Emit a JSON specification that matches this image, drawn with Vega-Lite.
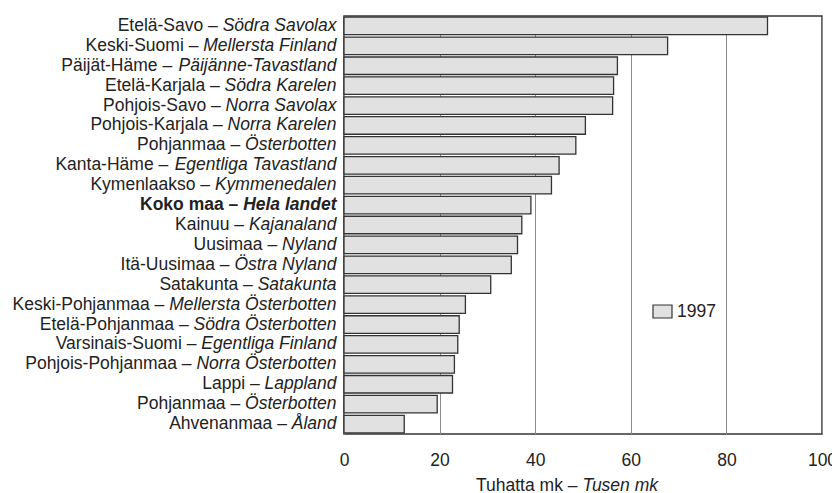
{
  "$schema": "https://vega.github.io/schema/vega-lite/v6.json",
  "width": 478,
  "height": 418,
  "autosize": {"type": "none"},
  "padding": {"left": 344, "top": 16, "right": 10, "bottom": 59},
  "background": "white",
  "config": {
    "font": "Liberation Sans",
    "view": {"stroke": "#333333", "strokeWidth": 1.5},
    "axis": {"labelColor": "#222222", "titleColor": "#222222", "labelFont": "Liberation Sans", "titleFont": "Liberation Sans"}
  },
  "data": {
    "values": [
      {"key": "01|Etelä-Savo|Södra Savolax", "value": 88.6, "year": "1997"},
      {"key": "02|Keski-Suomi|Mellersta Finland", "value": 67.7, "year": "1997"},
      {"key": "03|Päijät-Häme|Päijänne-Tavastland", "value": 57.2, "year": "1997"},
      {"key": "04|Etelä-Karjala|Södra Karelen", "value": 56.4, "year": "1997"},
      {"key": "05|Pohjois-Savo|Norra Savolax", "value": 56.2, "year": "1997"},
      {"key": "06|Pohjois-Karjala|Norra Karelen", "value": 50.5, "year": "1997"},
      {"key": "07|Pohjanmaa|Österbotten", "value": 48.5, "year": "1997"},
      {"key": "08|Kanta-Häme|Egentliga Tavastland", "value": 45.0, "year": "1997"},
      {"key": "09|Kymenlaakso|Kymmenedalen", "value": 43.4, "year": "1997"},
      {"key": "10|Koko maa|Hela landet", "value": 39.1, "year": "1997"},
      {"key": "11|Kainuu|Kajanaland", "value": 37.2, "year": "1997"},
      {"key": "12|Uusimaa|Nyland", "value": 36.3, "year": "1997"},
      {"key": "13|Itä-Uusimaa|Östra Nyland", "value": 35.0, "year": "1997"},
      {"key": "14|Satakunta|Satakunta", "value": 30.7, "year": "1997"},
      {"key": "15|Keski-Pohjanmaa|Mellersta Österbotten", "value": 25.4, "year": "1997"},
      {"key": "16|Etelä-Pohjanmaa|Södra Österbotten", "value": 24.1, "year": "1997"},
      {"key": "17|Varsinais-Suomi|Egentliga Finland", "value": 23.8, "year": "1997"},
      {"key": "18|Pohjois-Pohjanmaa|Norra Österbotten", "value": 23.1, "year": "1997"},
      {"key": "19|Lappi|Lappland", "value": 22.7, "year": "1997"},
      {"key": "20|Pohjanmaa|Österbotten", "value": 19.5, "year": "1997"},
      {"key": "21|Ahvenanmaa|Åland", "value": 12.6, "year": "1997"}
    ]
  },
  "layer": [
    {
      "mark": {"type": "bar", "stroke": "#333333", "strokeWidth": 1.3},
      "encoding": {
        "y": {
          "field": "key", "type": "nominal", "sort": null,
          "scale": {"paddingInner": 0.12, "paddingOuter": 0.06},
          "axis": {
            "orient": "left", "title": null, "ticks": false, "tickSize": 0, "domain": false, "grid": false,
            "labelPadding": 8, "labelFontSize": 17.5, "labelLimit": 1000, "labelOverlap": false,
            "labelFontStyle": "italic",
            "labelFontWeight": {"condition": {"test": "indexof(datum.value,'Koko')>=0", "value": "bold"}, "value": "normal"},
            "labelExpr": "split(datum.value,'|')[2]"
          }
        },
        "x": {
          "field": "value", "type": "quantitative",
          "scale": {"domain": [0, 100], "nice": false},
          "axis": {
            "orient": "bottom", "values": [0, 20, 40, 60, 80, 100], "ticks": false, "tickSize": 0, "domain": false,
            "grid": true, "gridColor": "#8a8a8a", "gridWidth": 1,
            "labelFontSize": 17.5, "labelPadding": 17, "labelFlush": false,
            "title": "Tuhatta mk –", "titleFontSize": 17.5, "titleFontWeight": "normal",
            "titleAlign": "right", "titleBaseline": "alphabetic", "titleX": 233, "titleY": 56
          }
        },
        "color": {
          "field": "year", "type": "nominal",
          "scale": {"range": ["#e1e1e1"]},
          "legend": {
            "orient": "none", "legendX": 308, "legendY": 285, "title": null, "padding": 0,
            "symbolType": "M-1,-0.684H1V0.684H-1Z", "symbolSize": 361,
            "symbolStrokeColor": "#333333", "symbolStrokeWidth": 1.2,
            "labelFont": "Liberation Sans", "labelFontSize": 17.5, "labelColor": "#222222", "labelOffset": 4
          }
        }
      }
    },
    {
      "mark": {"type": "bar", "opacity": 0},
      "encoding": {
        "y": {
          "field": "key", "type": "nominal", "sort": null,
          "axis": {
            "orient": "left", "title": null, "ticks": false, "tickSize": 0, "domain": false, "grid": false,
            "labelFontSize": 17.5, "labelLimit": 1000, "labelOverlap": false,
            "labelFontWeight": {"condition": {"test": "indexof(datum.value,'Koko')>=0", "value": "bold"}, "value": "normal"},
            "labelExpr": "split(datum.value,'|')[1] + ' –'",
            "labelPadding": {"expr": "8 + 0.0175*((556*length(split(datum.value,'|')[2]) - 334*length(replace(split(datum.value,'|')[2],regexp('[^ijl]','g'),'')) - 278*length(replace(split(datum.value,'|')[2],regexp('[^ftI ]','g'),'')) - 223*length(replace(split(datum.value,'|')[2],regexp('[^r-]','g'),'')) - 56*length(replace(split(datum.value,'|')[2],regexp('[^cksvxyzJ]','g'),'')) + 55*length(replace(split(datum.value,'|')[2],regexp('[^FTZ]','g'),'')) + 111*length(replace(split(datum.value,'|')[2],regexp('[^ABEKPSVXYÄÅ]','g'),'')) + 166*length(replace(split(datum.value,'|')[2],regexp('[^CDHNRUw]','g'),'')) + 222*length(replace(split(datum.value,'|')[2],regexp('[^GOQÖ]','g'),'')) + 277*length(replace(split(datum.value,'|')[2],regexp('[^mM]','g'),'')))*(indexof(datum.value,'Koko')>=0 ? 1.055 : 1) + 278)"}
          }
        },
        "x": {
          "field": "value", "type": "quantitative",
          "axis": {
            "orient": "bottom", "labels": false, "ticks": false, "domain": false, "grid": false,
            "title": "Tusen mk", "titleFontSize": 17.5, "titleFontWeight": "normal", "titleFontStyle": "italic",
            "titleAlign": "left", "titleBaseline": "alphabetic", "titleX": 238, "titleY": 56
          }
        }
      }
    }
  ],
  "resolve": {"axis": {"x": "independent", "y": "independent"}}
}
